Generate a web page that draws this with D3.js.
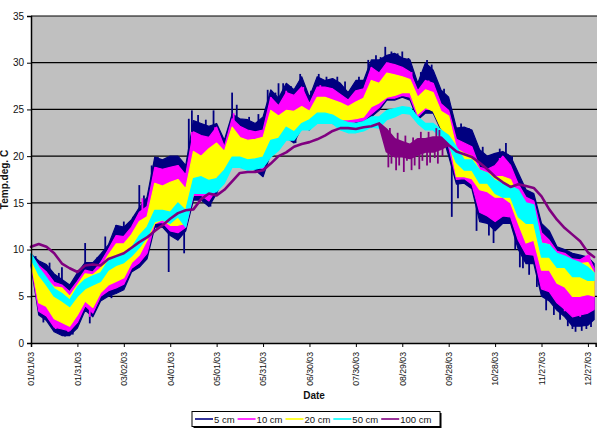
<!DOCTYPE html>
<html>
<head>
<meta charset="utf-8">
<script src="https://cdn.jsdelivr.net/npm/d3@7"></script>
<style>
  body { margin: 0; background: #fff; }
  text { font-family: "Liberation Sans", Arial, sans-serif; fill: #111; }
</style>
</head>
<body>
<svg id="chart" width="597" height="434"></svg>
<script>
// sample days (offset from 01/01/03), every 5 days
const dayOffsets = [0,5,10,15,20,25,30,35,40,45,50,55,60,65,70,75,80,85,90,95,100,105,110,115,120,125,130,135,140,145,150,155,160,165,170,175,180,185,190,195,200,205,210,215,220,225,230,235,240,245,250,255,260,265,270,275,280,285,290,295,300,305,310,315,320,325,330,335,340,345,350,355,360,364];

// daily envelopes (low / high), deg C
const cm5Low  = [8.3,3.0,2.4,1.2,0.8,0.8,1.6,3.5,2.8,4.5,5.0,5.3,5.7,7.6,8.1,9.0,12.4,12.4,11.5,11.0,12.0,15.3,15.3,14.6,16.0,18.2,18.8,18.8,18.8,18.5,17.8,20.3,20.8,22.0,21.4,23.1,22.8,23.9,23.9,23.5,23.1,23.1,23.5,23.5,24.2,24.9,26.0,26.0,26.3,26.0,23.9,24.6,24.6,22.8,20.0,17.0,17.1,16.5,13.0,12.8,12.0,12.8,12.8,10.0,8.5,8.5,5.0,4.5,3.5,2.8,1.8,1.8,1.9,2.5];
const cm5High = [9.5,8.8,8.4,7.4,6.8,6.2,7.5,8.6,8.6,9.5,10.5,12.6,12.4,13.2,14.5,15.6,19.9,19.6,20.0,20.0,19.0,23.8,23.5,23.2,23.5,21.7,24.5,24.0,23.9,23.5,24.2,27.1,26.2,27.8,27.1,28.5,26.3,28.5,28.1,28.3,27.8,26.8,28.1,28.1,30.3,30.3,30.8,31.0,30.5,30.3,27.8,30.0,29.2,27.1,26.3,23.0,23.1,22.8,20.7,20.0,20.3,20.5,20.0,18.2,16.4,16.0,12.8,12.0,10.3,10.0,9.6,9.4,9.2,8.5];
const cm10Low  = [8.5,3.4,2.9,1.7,1.5,1.3,2.2,4.0,3.2,5.0,5.6,5.9,6.3,8.0,8.6,9.6,12.8,12.9,12.0,11.8,12.4,15.8,15.8,15.2,16.5,18.4,19.2,19.2,19.2,19.0,18.6,20.8,21.2,22.4,21.8,23.3,23.0,24.0,24.0,23.7,23.4,23.4,23.7,23.8,24.5,25.2,26.2,26.2,26.5,26.3,24.2,25.0,25.0,23.2,21.0,17.5,17.6,17.0,14.0,13.6,13.0,13.6,13.5,11.0,9.5,9.4,5.8,5.5,4.3,3.6,2.8,3.0,3.2,3.6];
const cm10High = [9.4,8.3,7.6,6.5,6.2,5.5,6.6,7.8,7.6,8.6,10.0,11.5,11.4,12.4,14.0,14.6,18.8,18.6,18.8,19.0,18.0,22.6,22.2,22.0,23.1,21.0,24.0,23.2,22.8,22.6,22.8,26.3,25.4,26.8,26.5,27.4,25.6,27.4,27.4,27.2,26.6,26.0,27.0,27.2,29.5,28.9,30.0,29.8,29.5,29.0,27.0,28.1,27.8,25.6,24.9,21.8,21.4,21.0,18.8,18.6,19.0,20.0,19.0,17.0,15.6,15.2,11.8,11.0,9.8,9.6,9.0,8.9,9.4,8.0];
const cm20Low  = [8.6,4.3,3.9,2.6,2.2,1.8,3.0,4.5,3.8,5.4,6.2,6.6,7.0,8.6,9.4,11.0,12.8,13.2,12.6,12.6,12.8,16.0,16.2,16.0,17.8,18.6,19.6,19.6,19.6,19.4,19.3,20.7,21.5,22.5,22.2,23.5,23.2,24.2,24.2,23.9,23.9,23.9,24.0,24.2,25.3,25.7,26.3,26.5,26.8,26.8,24.5,25.2,24.8,23.0,22.0,17.8,17.8,17.6,16.4,16.2,15.6,15.6,15.0,12.8,10.7,11.0,7.8,7.8,6.4,6.0,5.0,5.0,5.2,5.0];
const cm20High = [9.3,7.8,6.8,6.0,5.9,5.0,6.2,7.4,7.3,8.0,9.4,10.6,10.6,11.6,13.0,13.5,17.1,16.8,17.2,17.5,16.5,20.5,20.0,20.8,21.4,20.5,23.1,22.0,21.7,21.8,22.0,24.9,24.3,24.9,24.8,25.3,24.8,26.3,26.3,26.0,25.7,25.3,25.8,26.2,28.1,27.8,28.9,28.7,28.5,28.2,26.3,27.1,26.8,24.8,24.3,20.8,20.3,20.0,18.5,18.2,17.8,17.8,17.5,15.6,14.2,14.0,10.7,10.5,9.2,9.0,8.6,8.5,8.6,7.5];
const cm50Low  = [9.0,7.3,6.2,5.0,4.5,3.9,5.0,5.8,6.2,6.6,7.8,8.3,8.6,9.3,10.2,11.3,13.0,13.2,12.8,13.5,12.4,16.0,16.0,16.0,16.2,17.1,18.8,18.8,18.5,18.6,18.8,19.9,20.6,21.7,21.7,22.8,22.8,23.5,23.5,23.5,22.8,22.5,22.5,22.7,23.1,23.0,23.9,24.2,24.6,24.5,23.5,22.8,22.8,22.0,21.2,19.3,18.5,18.5,17.1,17.1,16.0,15.6,15.6,13.5,12.8,12.8,9.2,9.2,8.1,8.1,7.1,7.1,6.7,6.7];
const cm50High = [9.6,8.1,7.0,5.8,5.3,4.6,6.0,6.8,7.2,7.5,8.8,9.2,9.6,10.2,11.5,12.4,14.2,14.2,14.0,15.0,14.2,17.6,17.8,17.4,17.6,18.5,19.9,19.9,19.6,19.7,19.9,21.7,21.9,23.1,22.6,23.5,23.9,24.6,24.6,24.4,23.9,23.6,23.5,23.7,24.2,24.2,24.9,25.1,25.3,25.2,24.2,23.5,23.5,22.8,22.2,21.0,19.6,19.6,18.5,18.2,17.4,17.1,16.8,16.4,15.0,14.8,10.7,10.5,9.6,9.3,8.9,8.6,8.1,7.5];
const cm100Low  = [10.3,10.6,10.3,9.6,8.5,8.0,7.6,8.3,8.4,8.3,9.0,9.3,9.6,10.2,10.8,11.3,12.0,12.6,13.3,13.9,14.2,14.3,15.4,16.0,15.8,16.4,17.3,18.2,18.3,18.3,18.5,19.2,20.0,20.4,21.0,21.3,21.5,21.8,22.2,22.7,23.0,23.0,22.9,23.1,23.2,23.5,20.5,20.0,20.0,19.8,20.2,20.5,20.5,20.8,21.2,20.5,20.2,19.9,19.3,18.6,17.8,17.2,16.7,17.0,16.8,16.6,15.7,14.3,13.2,12.3,11.6,10.9,9.7,9.2];
const cm100High = [10.3,10.6,10.3,9.6,8.5,8.0,7.6,8.3,8.4,8.3,9.0,9.3,9.6,10.2,10.8,11.3,12.0,12.6,13.3,13.9,14.2,14.3,15.4,16.0,15.8,16.4,17.3,18.2,18.3,18.3,18.5,19.2,20.0,20.4,21.0,21.3,21.5,21.8,22.2,22.7,23.0,23.0,22.9,23.1,23.2,23.5,22.8,21.8,21.5,21.2,21.8,21.8,22.0,22.0,21.2,20.5,20.2,19.9,19.3,18.6,17.8,17.2,16.7,17.0,16.8,16.6,15.7,14.3,13.2,12.3,11.6,10.9,9.7,9.2];

// single-day spikes: [day, extreme value]
const cm5Spikes = [[3,9.3],[8,2.2],[12,8.6],[18,7.5],[20,8.1],[22,0.7],[27,0.9],[35,10.7],[38,2.1],[43,9.2],[48,11.4],[52,4.8],[55,12.6],[60,13.0],[66,13.5],[70,16.9],[73,15.8],[78,19.0],[82,19.9],[86,19.6],[89,7.6],[93,20.0],[96,19.5],[99,9.6],[102,24.0],[104,24.9],[108,24.4],[113,23.9],[116,14.6],[118,24.9],[122,22.5],[130,26.8],[133,25.5],[141,24.2],[147,24.5],[153,27.1],[158,26.8],[160,27.8],[163,27.8],[168,27.5],[171,21.4],[174,28.8],[181,27.0],[186,28.8],[191,28.5],[198,28.5],[203,28.0],[212,28.5],[218,30.3],[223,30.8],[226,30.6],[229,31.7],[233,31.2],[237,31.0],[240,31.2],[244,30.5],[252,29.0],[256,30.3],[259,29.8],[267,27.2],[272,13.5],[276,15.5],[278,23.5],[283,23.0],[288,12.0],[292,21.0],[296,11.5],[299,10.7],[303,20.8],[307,21.4],[311,20.0],[313,10.0],[316,8.1],[318,8.0],[322,7.3],[327,6.0],[333,3.5],[338,3.0],[342,2.5],[347,1.8],[350,1.5],[352,1.2],[356,1.3],[359,1.5],[362,1.7]];
const cm10Spikes = [[16,1.5],[24,1.2],[38,2.8],[72,15.5],[81,18.8],[95,19.0],[104,22.6],[119,23.1],[131,24.6],[155,26.3],[165,27.0],[176,27.4],[187,27.6],[220,29.5],[231,30.0],[246,29.0],[257,28.1],[290,18.8],[303,19.8],[345,3.4],[355,2.8],[361,9.6]];
const cm100Spikes = [[231,18.8],[232,23.0],[233,19.2],[236,18.5],[237,22.5],[238,19.0],[241,18.3],[242,22.2],[243,19.5],[246,18.5],[247,22.0],[248,19.0],[251,18.6],[252,22.6],[253,19.5],[256,19.0],[257,22.6],[258,19.3],[261,19.8],[262,23.0],[263,19.2],[264,22.8],[266,20.0]];

const seriesNames = ["5 cm", "10 cm", "20 cm", "50 cm", "100 cm"];
const seriesColors = ["#000080", "#ff00ff", "#ffff00", "#00ffff", "#800080"];
const seriesLow = [cm5Low, cm10Low, cm20Low, cm50Low, cm100Low];
const seriesHigh = [cm5High, cm10High, cm20High, cm50High, cm100High];
const seriesSpikes = [cm5Spikes, cm10Spikes, [], [], cm100Spikes];

const tickDays = [0,30,60,90,120,150,180,210,240,270,300,330,360];
const tickLabels = ["01/01/03","01/31/03","03/02/03","04/01/03","05/01/03","05/31/03","06/30/03","07/30/03","08/29/03","09/28/03","10/28/03","11/27/03","12/27/03"];
const yTicks = [0,5,10,15,20,25,30,35];

const start = new Date(Date.UTC(2003, 0, 1));
const dayDate = d => d3.utcDay.offset(start, d);

const svg = d3.select("#chart");
const plotLeft = 31, plotRight = 597, plotTop = 16, plotBottom = 343;

const x = d3.scaleUtc()
  .domain([start, dayDate(365)])
  .range([plotLeft, plotLeft + 365 * 1.547]);
const y = d3.scaleLinear().domain([0, 35]).range([plotBottom, plotTop]);

// plot background
svg.append("rect")
  .attr("x", plotLeft).attr("y", plotTop)
  .attr("width", plotRight - plotLeft).attr("height", plotBottom - plotTop)
  .attr("fill", "#c0c0c0");

// gridlines
svg.append("g")
  .selectAll("line")
  .data(yTicks.filter(v => v > 0))
  .join("line")
  .attr("x1", plotLeft).attr("x2", plotRight)
  .attr("y1", d => y(d)).attr("y2", d => y(d))
  .attr("stroke", "#000").attr("stroke-width", 1.2);

// band middle at any day, used as the root of a spike
const bandMid = (s, day) => {
  const i = Math.max(0, d3.bisectRight(dayOffsets, day) - 1);
  const j = Math.min(dayOffsets.length - 1, i + 1);
  const t = j === i ? 0 : (day - dayOffsets[i]) / (dayOffsets[j] - dayOffsets[i]);
  const mi = (seriesLow[s][i] + seriesHigh[s][i]) / 2;
  const mj = (seriesLow[s][j] + seriesHigh[s][j]) / 2;
  return mi + (mj - mi) * t;
};

// series bands
const plot = svg.append("g");
seriesNames.forEach((name, s) => {
  const pts = dayOffsets.map((d, i) => ({ date: dayDate(d), lo: seriesLow[s][i], hi: seriesHigh[s][i] }));
  const area = d3.area()
    .x(d => x(d.date))
    .y0(d => y(d.lo))
    .y1(d => y(d.hi));
  plot.append("path")
    .datum(pts)
    .attr("d", area)
    .attr("fill", seriesColors[s])
    .attr("stroke", seriesColors[s])
    .attr("stroke-width", s === 4 ? 2.6 : 1.2)
    .attr("stroke-linejoin", "round");

  plot.append("g")
    .selectAll("line")
    .data(seriesSpikes[s])
    .join("line")
    .attr("x1", d => x(dayDate(d[0]))).attr("x2", d => x(dayDate(d[0])))
    .attr("y1", d => y(bandMid(s, d[0]))).attr("y2", d => y(d[1]))
    .attr("stroke", seriesColors[s]).attr("stroke-width", 1.8);
});

// axes
const yAxis = svg.append("g")
  .attr("transform", `translate(${plotLeft},0)`)
  .call(d3.axisLeft(y).tickValues(yTicks).tickSize(4).tickPadding(3));
yAxis.selectAll("text").style("font-size", "10px");

const xAxis = svg.append("g")
  .attr("transform", `translate(0,${plotBottom})`)
  .call(d3.axisBottom(x)
    .tickValues(tickDays.map(dayDate))
    .tickSize(4)
    .tickFormat((d, i) => tickLabels[i]));
xAxis.selectAll("text")
  .style("font-size", "8.7px")
  .attr("transform", "rotate(-90)")
  .attr("text-anchor", "end")
  .attr("x", -9)
  .attr("y", 0)
  .attr("dy", "0.33em");

svg.selectAll(".domain").attr("stroke", "#000").attr("stroke-width", 1.5);
svg.selectAll(".tick line").attr("stroke", "#000");

// axis titles
svg.append("text")
  .attr("x", (plotLeft + plotRight) / 2).attr("y", 399)
  .attr("text-anchor", "middle")
  .style("font-size", "10px").style("font-weight", "bold")
  .text("Date");

svg.append("text")
  .attr("transform", `translate(8,${(plotTop + plotBottom) / 2}) rotate(-90)`)
  .attr("text-anchor", "middle")
  .style("font-size", "10px").style("font-weight", "bold")
  .text("Temp.deg. C");

// legend
const legend = svg.append("g");
legend.append("rect")
  .attr("x", 193.5).attr("y", 413).attr("width", 248).attr("height", 15)
  .attr("fill", "#000");
legend.append("rect")
  .attr("x", 192).attr("y", 411.5).attr("width", 248).attr("height", 15)
  .attr("fill", "#fff").attr("stroke", "#000").attr("stroke-width", 1);

let lx = 195;
seriesNames.forEach((name, s) => {
  legend.append("line")
    .attr("x1", lx).attr("x2", lx + 18)
    .attr("y1", 419).attr("y2", 419)
    .attr("stroke", seriesColors[s]).attr("stroke-width", 1.6);
  const t = legend.append("text")
    .attr("x", lx + 19).attr("y", 422.5)
    .style("font-size", "9.5px")
    .text(name);
  lx += 19 + t.node().getComputedTextLength() + 3;
});
</script>
</body>
</html>
